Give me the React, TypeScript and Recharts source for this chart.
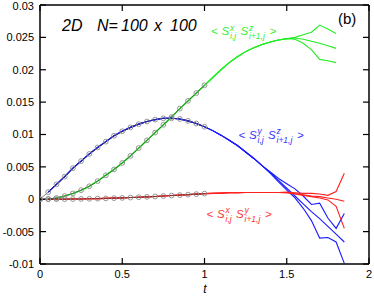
import React from 'react';
import { LineChart, Line, XAxis, YAxis } from 'recharts';

// exact solution, sampled every 0.05 up to t = 1
const tExact = [0, 0.05, 0.1, 0.15, 0.2, 0.25, 0.3, 0.35, 0.4, 0.45, 0.5, 0.55, 0.6, 0.65, 0.7, 0.75, 0.8, 0.85, 0.9, 0.95, 1.0];
const greenExact = [0, 0.00005, 0.0002, 0.0005, 0.0009, 0.0014, 0.002, 0.0028, 0.0037, 0.0046, 0.0056, 0.0067, 0.0079, 0.0091, 0.0103, 0.0115, 0.0127, 0.014, 0.0152, 0.0164, 0.0176];
const blueExact = [0, 0.0011, 0.0023, 0.0035, 0.0048, 0.0059, 0.007, 0.008, 0.0089, 0.0098, 0.0105, 0.0111, 0.0116, 0.012, 0.0123, 0.0125, 0.0125, 0.0124, 0.0121, 0.0117, 0.0112];
const redExact = [0, 0, 0.00001, 0.00002, 0.00003, 0.00005, 0.00007, 0.0001, 0.00013, 0.00017, 0.00021, 0.00026, 0.00031, 0.00037, 0.00043, 0.0005, 0.00057, 0.00064, 0.00071, 0.00079, 0.00087];

// simulation time grid
const tSim = [0.05, 0.1, 0.15, 0.2, 0.25, 0.3, 0.35, 0.4, 0.45, 0.5, 0.55, 0.6, 0.65, 0.7, 0.75, 0.8, 0.85, 0.9, 0.95, 1.0,
  1.05, 1.1, 1.15, 1.2, 1.25, 1.3, 1.35, 1.4, 1.45, 1.5, 1.55, 1.6, 1.65, 1.7, 1.75, 1.8, 1.85];

// <Sx Sz>: trunk 1.05..1.5, branches 1.55..1.8
const greenTrunk = [0.0188, 0.02, 0.0211, 0.022, 0.0228, 0.0234, 0.0239, 0.0243, 0.0246, 0.0248];
const greenBranchA = [0.025, 0.0254, 0.0258, 0.0269, 0.0263, 0.0256];
const greenBranchB = [0.0249, 0.0247, 0.0244, 0.0241, 0.0237, 0.0233];
const greenBranchC = [0.0247, 0.0241, 0.0231, 0.0216, 0.0214, 0.0211];

// <Sy Sz>: trunk 1.05..1.35, branches 1.4..1.85
const blueTrunk = [0.0106, 0.0099, 0.0091, 0.0083, 0.0073, 0.0063, 0.0052];
const blueBranchA = [0.0042, 0.0032, 0.0024, 0.0016, 0.0005, -0.0008, -0.0006, -0.0029, -0.0045, -0.0022];
const blueBranchB = [0.0041, 0.0029, 0.0017, 0.0005, -0.0007, -0.0019, -0.003, -0.0042, -0.0054, -0.0066];
const blueBranchC = [0.004, 0.0027, 0.0014, 0.0002, -0.0014, -0.0033, -0.006, -0.0059, -0.0066, -0.0099];

// <Sx Sy>: trunk 1.05..1.45, branches 1.5..1.85
const redTrunk = [0.0009, 0.00095, 0.001, 0.001, 0.00105, 0.00105, 0.00105, 0.00105, 0.00105];
const redBranchA = [0.0011, 0.001, 0.0009, 0.0009, 0.0008, 0.0006, 0.0012, 0.004];
const redBranchB = [0.001, 0.0009, 0.0007, 0.0005, 0.0004, 0.0002, 0, -0.0003];
const redBranchC = [0.001, 0.0008, 0.0006, 0.0004, 0.0002, -0.0001, -0.0011, -0.0045];

const xTicks = [0, 0.5, 1, 1.5, 2];
const yTicks = [-0.01, -0.005, 0, 0.005, 0.01, 0.015, 0.02, 0.025, 0.03];

const GREEN = '#22ee22';
const BLUE = '#1a1aff';
const RED = '#ff2020';
const FONT = '"Liberation Sans", Arial, Helvetica, sans-serif';

const rows = (ts: number[], vs: number[]) => vs.map((v, i) => ({ t: ts[i], v }));
const run = (exact: number[], trunk: number[], branch: number[]) =>
  rows(tSim, [...exact.slice(1), ...trunk, ...branch]);

const greenRuns = [greenBranchA, greenBranchB, greenBranchC].map((b) => run(greenExact, greenTrunk, b));
const blueRuns = [blueBranchA, blueBranchB, blueBranchC].map((b) => run(blueExact, blueTrunk, b));
const redRuns = [redBranchA, redBranchB, redBranchC].map((b) => run(redExact, redTrunk, b));
const exactSets = [greenExact, blueExact, redExact].map((vs) => rows(tExact, vs));

const tickStyle = { fontSize: 11, fill: '#000', fontFamily: FONT };
const axisLine = { stroke: '#000', strokeWidth: 1.5 };
const tickLine = { stroke: '#000', strokeWidth: 1.2 };

const CorrLabel = ({ x, y, color, a, b }: { x: number; y: number; color: string; a: string; b: string }) => (
  <text fontFamily={FONT} fontStyle="italic" fontSize={11.5} fill={color}>
    <tspan x={x} y={y}>&lt;</tspan>
    <tspan x={x + 10.5} y={y}>S</tspan>
    <tspan x={x + 19} y={y - 4.5} fontSize={8.5}>{a}</tspan>
    <tspan x={x + 19} y={y + 4} fontSize={8.5}>i,j</tspan>
    <tspan x={x + 29.5} y={y}>S</tspan>
    <tspan x={x + 38} y={y - 4.5} fontSize={8.5}>{b}</tspan>
    <tspan x={x + 38} y={y + 4} fontSize={8.5}>i+1,j</tspan>
    <tspan x={x + 58.5} y={y}>&gt;</tspan>
  </text>
);

export default function App() {
  return (
    <div style={{ position: 'absolute', left: 0, top: 0, width: 374, height: 296, background: '#fff' }}>
      <LineChart width={374} height={296} margin={{ top: 0, right: 0, bottom: 0, left: 0 }}>
        <XAxis xAxisId="b" type="number" dataKey="t" domain={[0, 2]} ticks={xTicks} allowDataOverflow
          height={32} tickSize={-6} tickMargin={12} tick={tickStyle} axisLine={axisLine} tickLine={tickLine} />
        <XAxis xAxisId="top" orientation="top" type="number" dataKey="t" domain={[0, 2]} ticks={xTicks} allowDataOverflow
          height={5} tickSize={-6} tickFormatter={() => ''} axisLine={axisLine} tickLine={tickLine} />
        <YAxis yAxisId="l" type="number" domain={[-0.01, 0.03]} ticks={yTicks} allowDataOverflow
          width={40} tickSize={-6} tickMargin={12} tick={tickStyle} tickFormatter={(v: number) => String(v)}
          axisLine={axisLine} tickLine={tickLine} />
        <YAxis yAxisId="r" orientation="right" type="number" domain={[-0.01, 0.03]} ticks={yTicks} allowDataOverflow
          width={5} tickSize={-6} tickFormatter={() => ''} axisLine={axisLine} tickLine={tickLine} />

        {greenRuns.map((d, i) => (
          <Line key={'g' + i} xAxisId="b" yAxisId="l" data={d} dataKey="v" type="linear" stroke={GREEN}
            strokeWidth={1.1} dot={false} isAnimationActive={false} />
        ))}
        {blueRuns.map((d, i) => (
          <Line key={'b' + i} xAxisId="b" yAxisId="l" data={d} dataKey="v" type="linear" stroke={BLUE}
            strokeWidth={1.1} dot={false} isAnimationActive={false} />
        ))}
        {redRuns.map((d, i) => (
          <Line key={'r' + i} xAxisId="b" yAxisId="l" data={d} dataKey="v" type="linear" stroke={RED}
            strokeWidth={1.1} dot={false} isAnimationActive={false} />
        ))}
        {exactSets.map((d, i) => (
          <Line key={'e' + i} xAxisId="b" yAxisId="l" data={d} dataKey="v" type="linear" stroke="#333"
            strokeWidth={0.6} dot={{ r: 2.4, stroke: '#8a8a8a', strokeWidth: 0.9, fill: 'none' }}
            isAnimationActive={false} />
        ))}
      </LineChart>

      <svg width={374} height={296} style={{ position: 'absolute', left: 0, top: 0, pointerEvents: 'none' }}>
        <text fontFamily={FONT} fontStyle="italic" fontSize={16} fill="#000" y={31}>
          <tspan x={62}>2D</tspan>
          <tspan x={97}>N=</tspan>
          <tspan x={121}>100</tspan>
          <tspan x={154}>x</tspan>
          <tspan x={170}>100</tspan>
        </text>
        <text x={338} y={24} fontFamily={FONT} fontSize={15} fill="#000">(b)</text>
        <CorrLabel x={211} y={35} color="#33ee33" a="x" b="z" />
        <CorrLabel x={238.5} y={138.5} color="#3333ff" a="y" b="z" />
        <CorrLabel x={206.5} y={217.5} color="#ff3333" a="x" b="y" />
        <text x={205} y={293} textAnchor="middle" fontFamily={FONT} fontStyle="italic" fontSize={12} fill="#000">t</text>
      </svg>
    </div>
  );
}
